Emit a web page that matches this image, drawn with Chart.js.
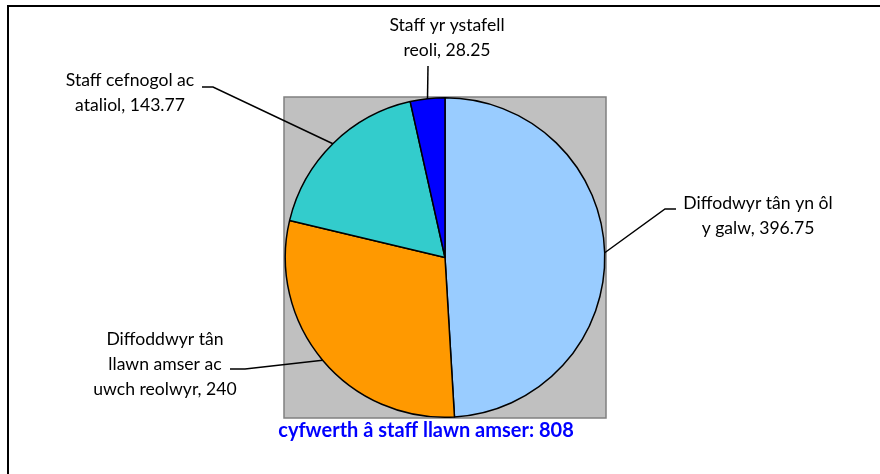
<!DOCTYPE html>
<html>
<head>
<meta charset="utf-8">
<script src="https://cdn.jsdelivr.net/npm/chart.js@4"></script>
<style>
  html, body { margin: 0; padding: 0; background: #fff; }
  #wrap { width: 880px; height: 474px; position: relative; }
</style>
</head>
<body>
<div id="wrap"><canvas id="pieChart" width="880" height="474"></canvas></div>
<script>
/* ================================================
   DATA
================================================ */
const categories = [
  'Diffodwyr tân yn ôl y galw',
  'Diffoddwyr tân llawn amser ac uwch reolwyr',
  'Staff cefnogol ac ataliol',
  'Staff yr ystafell reoli',
];
const fteValues = [396.75, 240, 143.77, 28.25];
const totalLabel = 'cyfwerth â staff llawn amser: 808';

/* ================================================
   STYLE / LAYOUT
================================================ */
const sliceColors = ['#99CCFF', '#FF9900', '#33CCCC', '#0000FF'];
const labelFont = '17.6px Lato, "Open Sans", sans-serif';
const titleFont = 'bold 20px Lato, "Open Sans", sans-serif';

// words per line, text centre, first line y, leader elbow
const labelLayout = [
  { words: [4, 3],    cx: 758, y: 203, elbow: [[676, 209], [665, 209]] },
  { words: [2, 3, 3], cx: 165, y: 339, elbow: [[230, 369], [245, 369]] },
  { words: [3, 2],    cx: 130, y: 80,  elbow: [[202, 87], [213, 87]] },
  { words: [3, 2],    cx: 447, y: 25,  elbow: [[428, 66]] },
];
const lineGap = 25;

function labelLines(i) {
  const words = (categories[i] + ', ' + fteValues[i]).split(' ');
  const out = [];
  let k = 0;
  labelLayout[i].words.forEach(n => { out.push(words.slice(k, k + n).join(' ')); k += n; });
  return out;
}

/* ================================================
   PLUGINS
================================================ */
const backdrop = {
  id: 'backdrop',
  beforeDraw(chart) {
    const { ctx, chartArea: a } = chart;
    ctx.save();
    ctx.fillStyle = '#fff';
    ctx.fillRect(0, 0, chart.width, chart.height);
    // outer frame (cropped right/bottom)
    ctx.strokeStyle = '#000';
    ctx.lineWidth = 2;
    ctx.strokeRect(8, 6, chart.width + 20, chart.height + 20);
    // plot area
    ctx.fillStyle = '#C0C0C0';
    ctx.fillRect(a.left, a.top, a.right - a.left, a.bottom - a.top);
    ctx.strokeStyle = '#808080';
    ctx.lineWidth = 1.5;
    ctx.strokeRect(a.left, a.top, a.right - a.left, a.bottom - a.top);
    ctx.restore();
  },
};

const sliceLabels = {
  id: 'sliceLabels',
  afterDraw(chart) {
    const { ctx } = chart;
    const arcs = chart.getDatasetMeta(0).data;
    ctx.save();
    ctx.strokeStyle = '#000';
    ctx.lineWidth = 1.5;
    ctx.fillStyle = '#000';
    ctx.font = labelFont;
    ctx.textAlign = 'center';
    ctx.textBaseline = 'middle';

    arcs.forEach((arc, i) => {
      const p = arc.getProps(['x', 'y', 'startAngle', 'endAngle', 'outerRadius'], true);
      const mid = (p.startAngle + p.endAngle) / 2;
      const ex = p.x + Math.cos(mid) * p.outerRadius;
      const ey = p.y + Math.sin(mid) * p.outerRadius;
      const L = labelLayout[i];

      ctx.beginPath();
      ctx.moveTo(L.elbow[0][0], L.elbow[0][1]);
      for (let j = 1; j < L.elbow.length; j++) ctx.lineTo(L.elbow[j][0], L.elbow[j][1]);
      ctx.lineTo(ex, ey);
      ctx.stroke();

      labelLines(i).forEach((t, j) => ctx.fillText(t, L.cx, L.y + j * lineGap));
    });

    ctx.font = titleFont;
    ctx.fillStyle = '#0000FF';
    ctx.fillText(totalLabel, 426, 431);
    ctx.restore();
  },
};

/* ================================================
   CHART
================================================ */
new Chart(document.getElementById('pieChart'), {
  type: 'pie',
  data: {
    labels: categories,
    datasets: [{
      data: fteValues,
      backgroundColor: sliceColors,
      borderColor: '#000',
      borderWidth: 1.5,
    }],
  },
  options: {
    responsive: false,
    animation: false,
    layout: { padding: { left: 284, right: 274, top: 97, bottom: 56 } },
    plugins: {
      legend: { display: false },
      tooltip: { enabled: false },
    },
  },
  plugins: [backdrop, sliceLabels],
});
</script>
</body>
</html>
